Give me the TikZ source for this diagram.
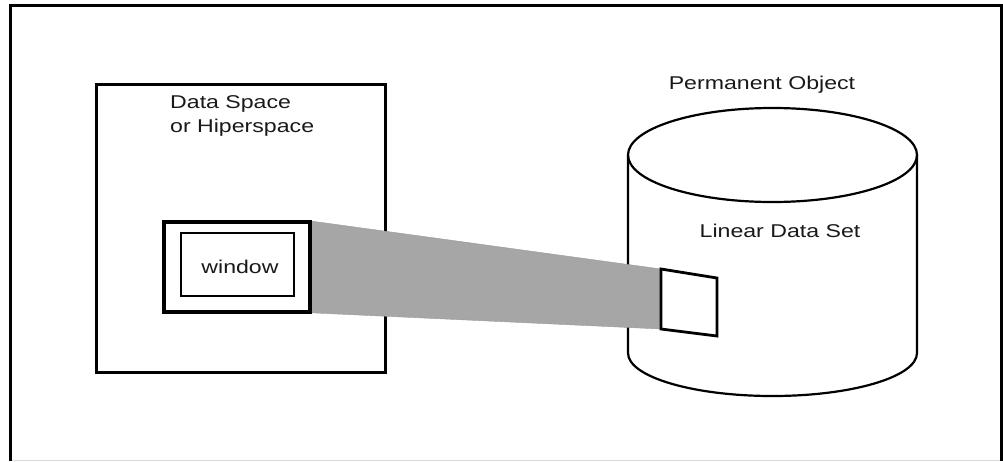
\documentclass[tikz,border=0pt]{standalone}
\usepackage{fontspec}
\setmainfont[FakeStretch=1.25]{Liberation Sans}
\begin{document}
\begin{tikzpicture}[x=1pt,y=-1pt,
  lbl/.style={font=\fontsize{18.5}{24}\selectfont, text=black!90, inner sep=0pt},
  boxline/.style={draw=black, line width=2.8pt},
  shade/.style={fill=black!35, draw=black!40, line width=0.4pt}]
\useasboundingbox (0,0) rectangle (1003,461);
% outer frame
\draw[black!15, line width=1pt] (10.5,460.5) -- (1001.5,460.5);
\draw[line width=3pt] (10.5,461) -- (10.5,5.5) -- (1001.5,5.5) -- (1001.5,461);
% data space box
\node[boxline, minimum width=289pt, minimum height=288pt, anchor=north west, inner sep=0pt] (ds) at (95,83) {};
\node[lbl, align=left, anchor=base west] (dslbl) at (170,132) {Data Space\\or Hiperspace};
% window boxes
\node[boxline, minimum width=145pt, minimum height=89pt, anchor=north west, inner sep=0pt] (wo) at (163,221) {};
\node[boxline, minimum width=113pt, minimum height=63pt, inner sep=0pt] (wi) at (237.5,264.5) {};
\node[lbl] (wlbl) at (240,267) {window};
% cylinder
\draw[line width=2.2pt, fill=white] (628,155) -- (628,353) arc[start angle=180, end angle=0, x radius=144.5, y radius=43] -- (917,155);
\draw[line width=2.2pt] (772.5,155) ellipse[x radius=144.5, y radius=47];
\node[lbl] (perm) at (762,85) {Permanent Object};
\node[lbl, anchor=base] (lin) at (780,237) {Linear Data Set};
% small quad on cylinder
\coordinate (q1) at (661,269);
\coordinate (q2) at (717,278);
\coordinate (q3) at (717,336);
\coordinate (q4) at (661,329);
% beam
\fill[shade] (wo.north east) -- (q1) -- (q4) -- (wo.south east) -- cycle;
\draw[line width=2.8pt, fill=white, line join=miter] (q1) -- (q2) -- (q3) -- (q4) -- cycle;
\draw[boxline] (wo.north west) rectangle (wo.south east);
\end{tikzpicture}
\end{document}
